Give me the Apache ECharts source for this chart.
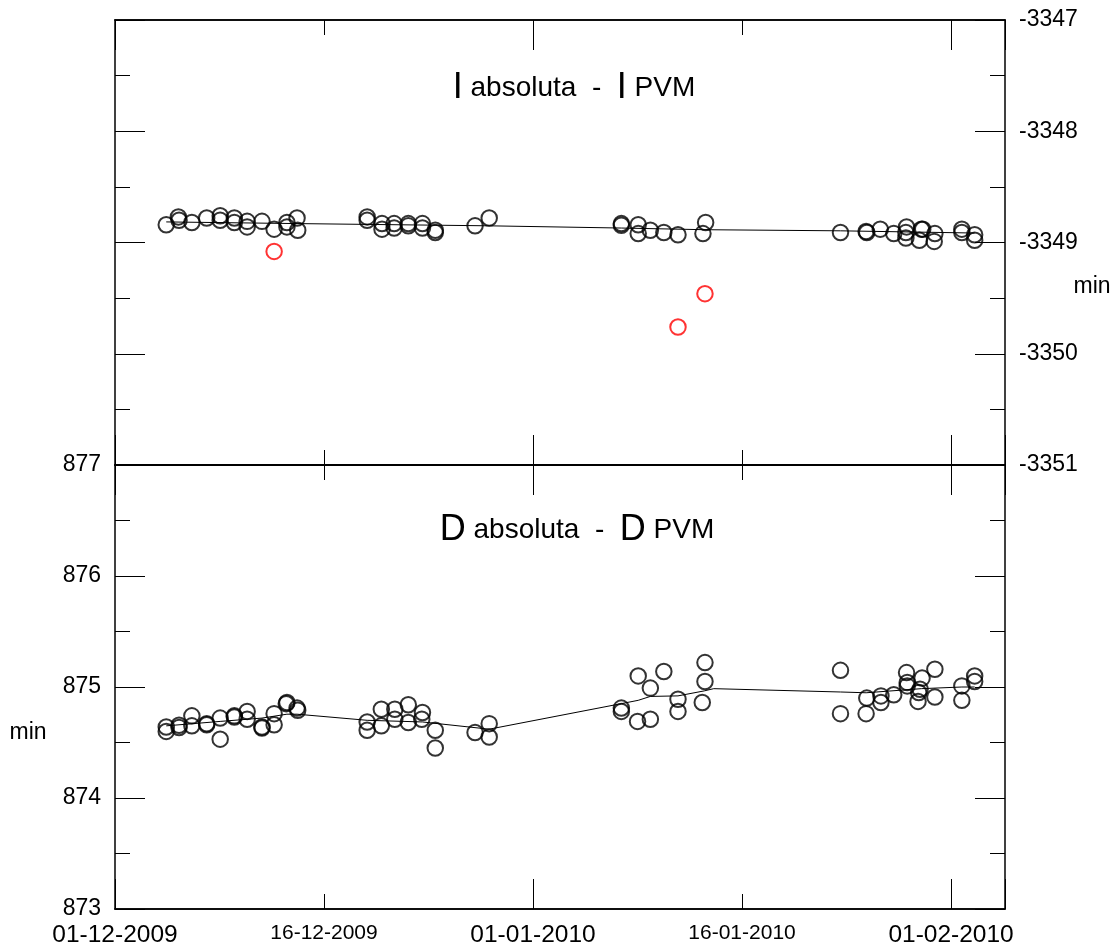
<!DOCTYPE html>
<html>
<head>
<meta charset="utf-8">
<script src="https://cdn.jsdelivr.net/npm/echarts@6/dist/echarts.min.js"></script>
<style>
html,body{margin:0;padding:0;background:#fff;}
#chart{width:1115px;height:948px;}
</style>
</head>
<body>
<div id="chart"></div>
<script>
// x values: days since 01-12-2009 00:00
var xTickLabels = ['01-12-2009', '16-12-2009', '01-01-2010', '16-01-2010', '01-02-2010'];
var xTickMajor = [true, false, true, false, true];

// Upper panel: I absoluta - I PVM (min)
var incBlack = [
  [3.8,-3348.84],[4.7,-3348.77],[4.75,-3348.80],[5.7,-3348.82],[6.8,-3348.78],
  [7.8,-3348.76],[7.8,-3348.80],[8.85,-3348.78],[8.85,-3348.82],[9.8,-3348.81],
  [9.8,-3348.86],[10.9,-3348.81],[11.8,-3348.88],[12.75,-3348.82],[12.75,-3348.86],
  [13.5,-3348.78],[13.55,-3348.89],
  [18.7,-3348.77],[18.7,-3348.80],[19.8,-3348.83],[19.8,-3348.88],[20.7,-3348.83],
  [20.7,-3348.87],[21.75,-3348.83],[21.75,-3348.85],[22.8,-3348.83],[22.8,-3348.87],
  [23.75,-3348.91],[23.75,-3348.89],
  [26.7,-3348.85],[27.75,-3348.78],
  [37.55,-3348.83],[37.55,-3348.845],[38.8,-3348.84],[38.8,-3348.92],[39.7,-3348.89],
  [40.7,-3348.91],[41.75,-3348.93],[43.8,-3348.82],[43.6,-3348.92],
  [53.8,-3348.91],[55.7,-3348.90],[55.75,-3348.91],[56.75,-3348.88],[57.75,-3348.92],
  [58.7,-3348.86],[58.65,-3348.91],[58.65,-3348.96],[59.8,-3348.88],[59.65,-3348.98],
  [59.9,-3348.88],[60.8,-3348.92],[60.75,-3348.99],[62.8,-3348.88],[62.8,-3348.91],
  [63.75,-3348.93],[63.75,-3348.98]
];
var incRed = [[11.8,-3349.08],[41.75,-3349.76],[43.75,-3349.46]];
var incLine = [
  [3.8,-3348.815],[13.5,-3348.83],[27.75,-3348.85],[37.55,-3348.87],
  [43.75,-3348.885],[53.8,-3348.895],[63.75,-3348.915]
];

// Lower panel: D absoluta - D PVM (min)
var decBlack = [
  [3.8,874.64],[3.8,874.60],[4.75,874.655],[4.75,874.635],[5.7,874.74],[5.7,874.65],
  [6.8,874.67],[6.8,874.66],[7.8,874.72],[7.8,874.53],[8.85,874.73],[8.85,874.74],
  [9.8,874.78],[9.8,874.71],[10.9,874.64],[10.9,874.63],[11.8,874.76],[11.8,874.66],
  [12.75,874.86],[12.7,874.85],[13.5,874.81],[13.55,874.79],
  [18.7,874.685],[18.7,874.61],[19.75,874.80],[19.75,874.65],[20.75,874.80],[20.75,874.71],
  [21.75,874.84],[21.75,874.68],[22.8,874.77],[22.75,874.71],[23.75,874.61],[23.75,874.45],
  [26.7,874.59],[27.75,874.67],[27.75,874.55],
  [37.55,874.81],[37.55,874.78],[38.8,875.10],[38.75,874.69],[39.7,874.99],[39.7,874.71],
  [40.7,875.14],[41.75,874.89],[41.75,874.78],[43.75,875.22],[43.75,875.05],[43.55,874.86],
  [53.8,875.15],[53.8,874.76],[55.75,874.90],[55.7,874.76],[56.8,874.92],[56.8,874.86],
  [57.75,874.93],[58.7,875.13],[58.75,875.04],[58.75,875.01],[59.85,875.08],[59.7,874.98],
  [59.6,874.95],[59.55,874.87],[60.8,875.16],[60.8,874.91],[62.8,875.01],[62.8,874.88],
  [63.75,875.10],[63.75,875.05]
];
var decLine = [
  [3.8,874.65],[7.8,874.69],[10.9,874.72],[12.75,874.755],[13.5,874.755],[18.7,874.70],
  [22.8,874.685],[27.75,874.62],[37.55,874.85],[38.8,874.88],[39.7,874.915],[41.75,874.92],
  [43.7,874.965],[44.4,874.985],[53.8,874.955],[55.7,874.948],[59.8,874.985],[62.8,875.0],
  [63.75,875.0]
];

var xMin = 0, xMax = 66;
var FONT = '"Liberation Sans", Arial, sans-serif';

function xAxisDef(gridIndex, position, major, showLabels) {
  return {
    type: 'value', gridIndex: gridIndex, position: position,
    min: xMin, max: xMax, interval: major ? 31 : 15.5,
    axisLine: { show: true, onZero: false, lineStyle: { color: '#000', width: 1.5 } },
    axisTick: { show: true, inside: true, length: major ? 30 : 15, lineStyle: { color: '#000', width: 1 } },
    splitLine: { show: false },
    axisLabel: showLabels ? {
      show: true, margin: 14, fontFamily: FONT, color: '#000',
      formatter: function (v) {
        var i = Math.round(v / 15.5);
        if (Math.abs(v - i * 15.5) > 0.01 || i < 0 || i >= xTickLabels.length) return '';
        return xTickMajor[i] ? '{M|' + xTickLabels[i] + '}' : '{m|' + xTickLabels[i] + '}';
      },
      rich: {
        M: { fontSize: 24.5, fontFamily: FONT, color: '#000' },
        m: { fontSize: 21, fontFamily: FONT, color: '#000' }
      }
    } : { show: false }
  };
}

function yAxisDef(gridIndex, position, min, max, showLabels) {
  return {
    type: 'value', gridIndex: gridIndex, position: position,
    min: min, max: max, interval: 1,
    axisLine: { show: true, onZero: false, lineStyle: { color: '#000', width: 1.5 } },
    axisTick: { show: true, inside: true, length: 30, lineStyle: { color: '#000', width: 1 } },
    minorTick: { show: true, splitNumber: 2, length: 15, lineStyle: { color: '#000', width: 1 } },
    splitLine: { show: false },
    minorSplitLine: { show: false },
    axisLabel: showLabels ? {
      show: true, margin: 14, fontSize: 23, fontFamily: FONT, color: '#000',
      formatter: function (v) { return String(v); }
    } : { show: false }
  };
}

var circleStyle = function (c) {
  return { color: 'rgba(0,0,0,0)', borderColor: c, borderWidth: 2 };
};

var chart = echarts.init(document.getElementById('chart'), null, { renderer: 'canvas' });
chart.setOption({
  backgroundColor: '#fff',
  animation: false,
  grid: [
    { left: 115, top: 20, width: 890, height: 445 },
    { left: 115, top: 465, width: 890, height: 445 }
  ],
  xAxis: [
    xAxisDef(0, 'bottom', true, false),
    xAxisDef(0, 'bottom', false, false),
    xAxisDef(0, 'top', true, false),
    xAxisDef(0, 'top', false, false),
    xAxisDef(1, 'top', true, false),
    xAxisDef(1, 'top', false, false),
    xAxisDef(1, 'bottom', true, false),
    xAxisDef(1, 'bottom', false, true)
  ],
  yAxis: [
    yAxisDef(0, 'left', -3351, -3347, false),
    yAxisDef(0, 'right', -3351, -3347, true),
    yAxisDef(1, 'left', 873, 877, true),
    yAxisDef(1, 'right', 873, 877, false)
  ],
  graphic: [
    {
      type: 'text', x: 574, y: 88,
      style: {
        text: '{b|I}{s| absoluta  -  }{b|I}{s| PVM}',
        align: 'center', verticalAlign: 'middle',
        rich: {
          b: { fontSize: 36, fontFamily: FONT, fill: '#000' },
          s: { fontSize: 28, fontFamily: FONT, fill: '#000' }
        }
      }
    },
    {
      type: 'text', x: 577, y: 530,
      style: {
        text: '{b|D}{s| absoluta  -  }{b|D}{s| PVM}',
        align: 'center', verticalAlign: 'middle',
        rich: {
          b: { fontSize: 36, fontFamily: FONT, fill: '#000' },
          s: { fontSize: 28, fontFamily: FONT, fill: '#000' }
        }
      }
    },
    {
      type: 'text', x: 1092, y: 287,
      style: { text: 'min', fontSize: 23, fontFamily: FONT, fill: '#000', align: 'center', verticalAlign: 'middle' }
    },
    {
      type: 'text', x: 28, y: 733,
      style: { text: 'min', fontSize: 23, fontFamily: FONT, fill: '#000', align: 'center', verticalAlign: 'middle' }
    }
  ],
  series: [
    {
      type: 'line', xAxisIndex: 0, yAxisIndex: 1, data: incLine,
      showSymbol: false, symbol: 'none', lineStyle: { color: '#000', width: 1 }, z: 2
    },
    {
      type: 'scatter', xAxisIndex: 0, yAxisIndex: 1, data: incBlack,
      symbol: 'circle', symbolSize: 15.5, itemStyle: circleStyle('#000'), z: 3
    },
    {
      type: 'scatter', xAxisIndex: 0, yAxisIndex: 1, data: incRed,
      symbol: 'circle', symbolSize: 15.5, itemStyle: circleStyle('#ff0000'), z: 3
    },
    {
      type: 'line', xAxisIndex: 6, yAxisIndex: 2, data: decLine,
      showSymbol: false, symbol: 'none', lineStyle: { color: '#000', width: 1 }, z: 2
    },
    {
      type: 'scatter', xAxisIndex: 6, yAxisIndex: 2, data: decBlack,
      symbol: 'circle', symbolSize: 15.5, itemStyle: circleStyle('#000'), z: 3
    }
  ]
});
</script>
</body>
</html>
